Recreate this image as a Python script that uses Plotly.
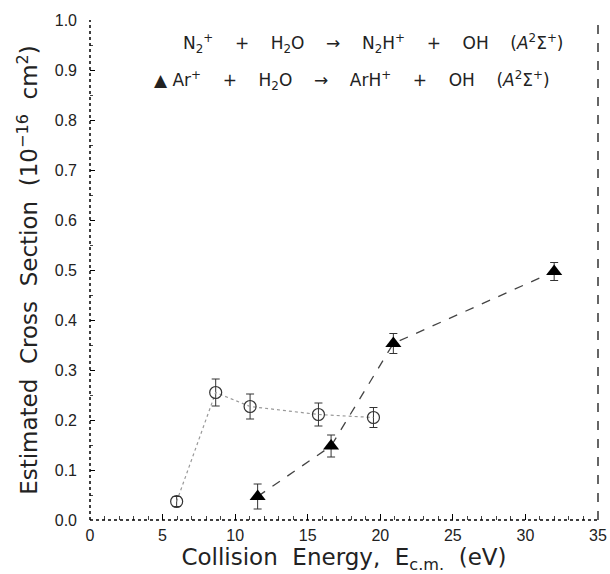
import plotly.graph_objects as go

# N2+ + H2O data (open circles)
n2_energy = [5.97, 8.66, 11.03, 15.74, 19.53]
n2_sigma = [0.037, 0.255, 0.227, 0.211, 0.205]
n2_err = [0.010, 0.027, 0.025, 0.023, 0.020]

# Ar+ + H2O data (filled triangles)
ar_energy = [11.55, 16.61, 20.9, 31.98]
ar_sigma = [0.047, 0.148, 0.353, 0.497]
ar_err = [0.025, 0.022, 0.020, 0.018]

x_ticks = [0, 5, 10, 15, 20, 25, 30, 35]
y_ticks = [0.0, 0.1, 0.2, 0.3, 0.4, 0.5, 0.6, 0.7, 0.8, 0.9, 1.0]

FONT = "Liberation Sans"
TFONT = "DejaVu Sans"
fig = go.Figure()

fig.add_trace(go.Scatter(
    x=n2_energy, y=n2_sigma, mode="lines+markers",
    line=dict(color="#999999", width=1.2, dash="dot"),
    marker=dict(symbol="circle-open", size=12, color="#333333", line=dict(width=1.2, color="#333333")),
    error_y=dict(type="data", array=n2_err, color="#333333", thickness=1, width=4),
    showlegend=False))

fig.add_trace(go.Scatter(
    x=ar_energy, y=ar_sigma, mode="lines+markers",
    line=dict(color="#444444", width=1.3, dash="dash"),
    marker=dict(symbol="triangle-up", size=14, color="black"),
    error_y=dict(type="data", array=ar_err, color="#333333", thickness=1, width=4),
    showlegend=False))

sp = "\u00a0\u00a0\u00a0\u00a0"
row1 = f"N<sub>2</sub><sup>+</sup>{sp}+{sp}H<sub>2</sub>O{sp}→{sp}N<sub>2</sub>H<sup>+</sup>{sp}+{sp}OH{sp}(<i>A</i><sup>2</sup>Σ<sup>+</sup>)"
row2 = f"▲ Ar<sup>+</sup>{sp}+{sp}H<sub>2</sub>O{sp}→{sp}ArH<sup>+</sup>{sp}+{sp}OH{sp}(<i>A</i><sup>2</sup>Σ<sup>+</sup>)"
fig.add_annotation(x=6.3, y=0.954, xref="x", yref="y", text=row1, showarrow=False,
                   xanchor="left", yanchor="middle", font=dict(family=TFONT, size=17, color="#222"))
fig.add_annotation(x=4.3, y=0.88, xref="x", yref="y", text=row2, showarrow=False,
                   xanchor="left", yanchor="middle", font=dict(family=TFONT, size=17, color="#222"))

# axis frame lines
fig.add_shape(type="line", xref="paper", yref="paper", x0=0, x1=1, y0=0, y1=0,
              line=dict(color="black", width=1.5, dash="dot"))
fig.add_shape(type="line", xref="paper", yref="paper", x0=0, x1=0, y0=0, y1=1,
              line=dict(color="black", width=1.5, dash="dot"))
fig.add_shape(type="line", xref="paper", yref="paper", x0=1, x1=1, y0=0, y1=1,
              line=dict(color="black", width=1.2, dash="dash"))

ws = "\u00a0\u00a0"
fig.update_layout(
    width=610, height=574,
    margin=dict(l=90, r=12, t=20, b=54),
    paper_bgcolor="white", plot_bgcolor="white",
    font=dict(family=FONT, color="black"),
    xaxis=dict(range=[0, 35], tickvals=x_ticks, ticktext=[str(v) for v in x_ticks],
               showgrid=False, zeroline=False, showline=False,
               ticks="inside", ticklen=6, tickcolor="black", tickwidth=1,
               minor=dict(dtick=1, ticks="inside", ticklen=4, tickcolor="#444", showgrid=False),
               tickfont=dict(size=16, color="#222"), ticklabelstandoff=4,
               title=dict(text=f"Collision{ws}Energy,{ws}E<sub>c.m.</sub>{ws}(eV)", font=dict(family=TFONT, size=23, color="#222"), standoff=0),
               automargin=False),
    yaxis=dict(range=[0, 1.0], tickvals=y_ticks, ticktext=[f"{v:.1f}" for v in y_ticks],
               showgrid=False, zeroline=False, showline=False,
               ticks="inside", ticklen=5, tickcolor="black", tickwidth=1,
               minor=dict(dtick=0.05, ticks="inside", ticklen=3, tickcolor="#444", showgrid=False),
               tickfont=dict(size=16, color="#222"), ticklabelstandoff=12,
               title=dict(text=f"Estimated{ws}Cross{ws}Section{ws}(10<sup>−16</sup>{ws}cm<sup>2</sup>)", font=dict(family=TFONT, size=23, color="#222"), standoff=10),
               automargin=False),
)

fig.write_html("out.html")
